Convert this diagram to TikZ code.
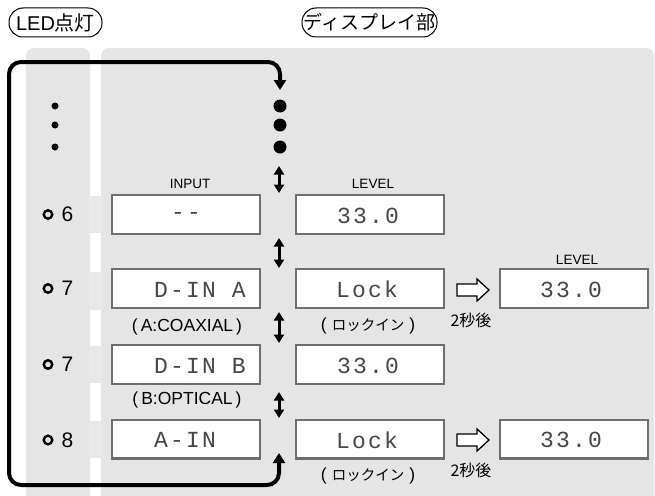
\documentclass[tikz,border=0pt]{standalone}
\usepackage{fontspec}
\setmainfont{Liberation Sans}
\newfontfamily\jp{Noto Sans CJK JP}
\newfontfamily\lcdfont[LetterSpace=9.5]{Liberation Mono}
\usetikzlibrary{arrows.meta,calc}
\definecolor{panel}{HTML}{E5E5E5}
\definecolor{band}{HTML}{E8E8E8}
\definecolor{frame}{HTML}{6E6E6E}
\begin{document}
\begin{tikzpicture}[x=1pt,y=-1pt,
  lcdbox/.style={draw=frame,line width=2.4pt,fill=white,minimum width=147.6pt,minimum height=38.6pt,inner sep=0pt},
  lcdtext/.style={font=\lcdfont\fontsize{23}{23}\selectfont,text=black!72,inner sep=0pt,anchor=west},
  caption/.style={font=\fontsize{13.5}{14}\selectfont,inner sep=0pt},
  note/.style={font=\fontsize{17.5}{18}\selectfont,inner sep=0pt},
  jnote/.style={font=\jp\fontsize{16}{16}\selectfont,inner sep=0pt},
  led/.style={circle,draw,line width=2.4pt,minimum size=8.5pt,inner sep=0pt},
  num/.style={font=\fontsize{21}{21}\selectfont,inner sep=0pt,anchor=west},
  titlebox/.style={draw,line width=1pt,rounded corners=14pt,minimum height=29pt,inner sep=0pt,font=\fontsize{20}{20}\selectfont},
  bigdot/.style={circle,fill,minimum size=13pt,inner sep=0pt},
  smalldot/.style={circle,fill,minimum size=7pt,inner sep=0pt},
  updown/.style={line width=3pt,{Triangle[width=10pt,length=8.5pt]}-{Triangle[width=10pt,length=8.5pt]}},
  loopline/.style={line width=4pt,rounded corners=12pt,{Triangle[width=12pt,length=10pt]}-{Triangle[width=12pt,length=10pt]}},
  hollow/.style={draw,line width=1.3pt,fill=white,line join=miter}]
\useasboundingbox (0,0) rectangle (655,495);
\clip (0,0) rectangle (655,495);
% panels
\fill[panel,rounded corners=8pt] (26,48) rectangle (90,520);
\fill[panel,rounded corners=8pt] (101,48) rectangle (654,520);
\foreach \ya/\yb in {196/233,272/310,346/383,421/458}
  \fill[band] (89,\ya) rectangle (102,\yb);
% titles
\node[titlebox,minimum width=93pt] (t1) at (55.5,22.5) {LED{\jp\fontsize{20}{20}\selectfont 点灯}};
\node[titlebox,minimum width=135pt] (t2) at (369.5,22.5) {\jp\fontsize{19}{19}\selectfont ディスプレイ部};
% dots
\foreach \i/\y in {1/106,2/125,3/147}{
  \node[smalldot] (s\i) at (55,\y) {};
  \node[bigdot] (d\i) at (280,\y) {};
}
% boxes
\node[lcdbox] (b6) at (186,214.5) {};
\node[lcdbox] (l6) at (370,214.5) {};
\node[lcdbox] (b7a) at (186,288.5) {};
\node[lcdbox] (k1) at (370,288.5) {};
\node[lcdbox] (r1) at (574,288.5) {};
\node[lcdbox] (b7b) at (186,364.5) {};
\node[lcdbox] (l7) at (370,364.5) {};
\node[lcdbox] (b8) at (186,439) {};
\node[lcdbox] (k2) at (370,439) {};
\node[lcdbox] (r2) at (574,439) {};
% lcd texts
\node[lcdtext] (x6) at ($(b6.west)+(60,1)$) {-{}-};
\node[lcdtext] (x7a) at ($(b7a.west)+(43,1)$) {D-IN A};
\node[lcdtext] (x7b) at ($(b7b.west)+(43,1)$) {D-IN B};
\node[lcdtext] (x8) at ($(b8.west)+(43,1)$) {A-IN};
\node[lcdtext] (y6) at ($(l6.west)+(42,1)$) {33.0};
\node[lcdtext] (y7) at ($(l7.west)+(42,1)$) {33.0};
\node[lcdtext] (k1t) at ($(k1.west)+(41,1)$) {Lock};
\node[lcdtext] (k2t) at ($(k2.west)+(41,1)$) {Lock};
\node[lcdtext] (r1t) at ($(r1.west)+(41,1)$) {33.0};
\node[lcdtext] (r2t) at ($(r2.west)+(41,1)$) {33.0};
% captions
\node[caption] (c1) at (190,183.5) {INPUT};
\node[caption] (c2) at (373,184) {LEVEL};
\node[caption] (c3) at (577,259.5) {LEVEL};
\node[note] (n1) at (187,327) {(\hspace{3pt}A:COAXIAL\hspace{3pt})};
\node[note] (n2) at (187,400) {(\hspace{3pt}B:OPTICAL\hspace{3pt})};
\node[note] (n3) at (368,326) {(\hspace{5pt}{\jp\fontsize{14.5}{15}\selectfont ロックイン}\hspace{5pt})};
\node[note] (n4) at (368,476) {(\hspace{5pt}{\jp\fontsize{14.5}{15}\selectfont ロックイン}\hspace{5pt})};
\node[jnote] (w1) at (471,320) {2秒後};
\node[jnote] (w2) at (471,470) {2秒後};
% LED labels
\foreach \n/\y/\t in {a/214.5/6,b/288.5/7,c/364.5/7,d/440/8}{
  \node[led] (o\n) at (48,\y) {};
  \node[num] (m\n) at (61.5,\y) {\t};
}
% hollow arrows
\foreach \yc in {290,440}
  \draw[hollow] (457,\yc-6) -- (477,\yc-6) -- (477,\yc-11) -- (489,\yc) -- (477,\yc+11) -- (477,\yc+6) -- (457,\yc+6) -- cycle;
% up/down arrows
\coordinate (u1a) at (279,166); \coordinate (u1b) at (279,193);
\coordinate (u2a) at (279,238); \coordinate (u2b) at (279,268);
\coordinate (u3a) at (279,312); \coordinate (u3b) at (279,343);
\coordinate (u4a) at (279,392); \coordinate (u4b) at (279,418);
\draw[updown] (u1a) -- (u1b);
\draw[updown] (u2a) -- (u2b);
\draw[updown] (u3a) -- (u3b);
\draw[updown] (u4a) -- (u4b);
% loop
\coordinate (ltop) at (280,90);
\coordinate (lbot) at (279,453);
\draw[loopline] (ltop) -- (280,62) -- (9,62) -- (9,485) -- (279,485) -- (lbot);
\end{tikzpicture}
\end{document}
